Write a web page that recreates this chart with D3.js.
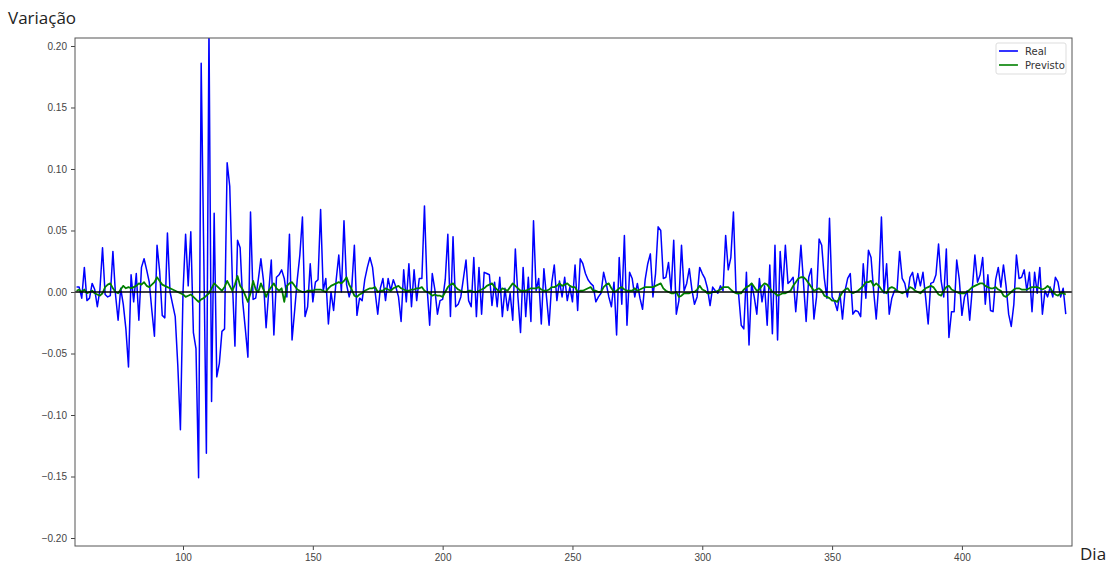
<!DOCTYPE html>
<html>
<head>
<meta charset="utf-8">
<title>Variação Real x Previsto</title>
<script src="https://d3js.org/d3.v7.min.js"></script>
<style>
  body { margin: 0; background: #fff; }
  svg { display: block; font-family: "DejaVu Sans", sans-serif; }
  .axis text { fill: #444; font-size: 10px; }
  .axis line { stroke: #444; }
  .axis .domain { display: none; }
</style>
</head>
<body>
<svg id="chart" width="1112" height="564"></svg>
<script>
// first day of both series
const startDay = 59;

// daily variation, real (days 59..440)
const real = [
  0.004, 0.004, -0.005, 0.020, -0.007, -0.005, 0.007, 0.002, -0.012, 0.002,
  0.036, -0.002, -0.004, -0.003, 0.033, -0.002, -0.023, 0.003, -0.010, -0.030,
  -0.061, 0.014, -0.008, 0.015, -0.023, 0.020, 0.027, 0.018, 0.008, -0.015,
  -0.036, 0.038, 0.017, -0.019, -0.021, 0.048, 0.000, -0.010, -0.020, -0.060,
  -0.112, 0.000, 0.047, 0.005, 0.049, -0.033, -0.046, -0.151, 0.186, 0.030,
  -0.131, 0.215, -0.089, 0.064, -0.069, -0.058, -0.032, -0.030, 0.105, 0.086,
  0.010, -0.044, 0.042, 0.036, -0.008, -0.030, -0.053, 0.065, -0.006, -0.005,
  0.010, 0.027, 0.009, -0.029, 0.000, 0.026, -0.035, 0.012, 0.014, 0.018,
  0.011, -0.004, 0.047, -0.039, -0.015, 0.010, 0.030, 0.061, -0.020, -0.012,
  0.023, -0.008, 0.008, 0.010, 0.067, 0.001, 0.011, -0.026, 0.000, -0.015,
  0.010, 0.030, 0.000, 0.058, 0.006, -0.004, 0.004, 0.038, -0.019, -0.005,
  -0.007, 0.010, 0.020, 0.028, 0.020, 0.000, -0.018, 0.003, 0.011, -0.007,
  0.011, 0.001, 0.010, 0.004, -0.004, -0.024, 0.018, -0.008, 0.023, -0.012,
  0.018, -0.007, 0.011, 0.011, 0.070, 0.004, -0.027, 0.015, 0.002, -0.018,
  -0.007, -0.006, 0.010, 0.047, -0.020, 0.045, -0.012, -0.010, -0.004, 0.011,
  0.026, -0.007, -0.012, 0.028, -0.020, 0.020, -0.018, 0.016, 0.015, 0.014,
  -0.011, 0.008, -0.012, 0.012, -0.020, 0.003, -0.015, -0.001, -0.023, 0.035,
  -0.004, -0.033, 0.020, -0.020, 0.012, -0.024, 0.058, 0.001, 0.011, -0.026,
  0.019, -0.004, -0.027, 0.007, 0.022, -0.007, 0.009, -0.004, 0.012, -0.007,
  0.004, -0.008, 0.022, -0.015, 0.027, 0.023, 0.015, 0.010, 0.007, 0.005,
  -0.008, -0.004, -0.001, 0.016, 0.007, -0.004, -0.012, 0.008, -0.035, 0.028,
  -0.010, 0.046, -0.027, 0.016, 0.011, -0.004, 0.007, -0.005, -0.014, 0.010,
  0.023, 0.031, -0.004, 0.015, 0.053, 0.050, 0.011, 0.012, 0.024, 0.001,
  0.042, -0.018, -0.007, 0.038, 0.001, 0.007, 0.019, 0.002, -0.010, -0.004,
  0.020, 0.015, 0.011, 0.003, -0.011, 0.004, 0.001, -0.001, 0.005, 0.001,
  0.046, 0.018, 0.028, 0.065, 0.000, -0.002, -0.027, -0.030, 0.016, -0.043,
  0.007, -0.004, -0.018, 0.011, -0.008, 0.005, -0.027, 0.022, -0.034, 0.038,
  -0.039, 0.033, 0.001, 0.038, 0.007, 0.009, 0.012, -0.016, 0.009, 0.038,
  0.007, -0.024, 0.012, 0.019, -0.022, -0.004, 0.043, 0.038, 0.011, -0.005,
  0.060, -0.004, -0.008, -0.015, -0.001, -0.022, 0.001, 0.011, 0.015, -0.018,
  -0.015, -0.016, -0.020, 0.023, -0.005, 0.034, 0.028, 0.001, -0.022, 0.007,
  0.061, -0.001, 0.023, -0.018, -0.005, 0.001, 0.001, 0.033, 0.011, 0.007,
  -0.004, 0.012, 0.016, 0.003, 0.015, 0.005, 0.016, -0.004, -0.026, 0.007,
  0.008, 0.014, 0.039, 0.009, -0.004, 0.035, -0.037, -0.016, -0.016, 0.026,
  0.010, -0.019, -0.004, 0.001, -0.023, 0.003, 0.030, 0.008, 0.014, 0.028,
  -0.010, 0.014, -0.015, -0.016, 0.010, 0.020, 0.004, 0.022, 0.005, -0.018,
  -0.028, -0.010, 0.030, 0.011, 0.012, 0.018, 0.001, 0.016, -0.016, 0.016,
  -0.001, 0.020, -0.018, 0.001, -0.004, 0.004, -0.004, 0.012, 0.008, -0.004,
  0.003, -0.018
];

// model prediction (same days)
const previsto = [
  0.001, 0.002, 0.000, 0.002, -0.001, 0.000, 0.001, -0.001, -0.002, -0.003,
  -0.001, 0.004, 0.006, 0.007, 0.003, 0.000, -0.001, 0.002, 0.005, 0.003,
  0.004, 0.003, 0.004, 0.005, 0.007, 0.006, 0.008, 0.005, 0.004, 0.006,
  0.008, 0.012, 0.009, 0.006, 0.005, 0.004, 0.003, 0.002, 0.001, 0.000,
  -0.001, -0.002, -0.004, -0.003, -0.002, -0.004, -0.006, -0.008, -0.006, -0.005,
  -0.003, -0.001, 0.003, 0.007, 0.005, 0.003, 0.001, 0.004, 0.009, 0.005,
  0.001, 0.006, 0.013, 0.005, 0.002, -0.003, -0.008, -0.001, 0.009, 0.002,
  0.000, 0.007, 0.002, -0.004, 0.001, 0.004, 0.007, 0.003, 0.001, 0.003,
  -0.008, 0.005, 0.007, 0.008, 0.005, 0.002, 0.001, 0.000, 0.000, 0.001,
  0.001, 0.001, 0.002, 0.002, 0.002, 0.001, 0.000, 0.003, 0.005, 0.006,
  0.007, 0.008, 0.007, 0.009, 0.012, 0.006, 0.002, -0.003, -0.004, -0.002,
  -0.001, 0.001, 0.002, 0.003, 0.003, 0.004, 0.000, 0.001, 0.001, 0.003,
  0.002, 0.001, 0.003, 0.004, 0.005, 0.003, 0.002, 0.001, 0.001, 0.002,
  0.002, 0.003, 0.003, 0.004, 0.001, 0.000, -0.001, -0.003, -0.002, -0.003,
  -0.003, -0.004, 0.000, 0.004, 0.006, 0.007, 0.004, 0.002, 0.001, 0.000,
  0.000, 0.001, 0.001, 0.000, 0.000, 0.001, 0.002, 0.003, 0.005, 0.006,
  0.007, 0.004, 0.002, 0.000, 0.003, 0.002, 0.001, 0.004, 0.007, 0.005,
  0.003, 0.001, 0.001, 0.001, 0.002, 0.003, 0.003, 0.003, 0.004, 0.002,
  0.001, 0.001, 0.002, 0.004, 0.004, 0.005, 0.007, 0.005, 0.006, 0.007,
  0.005, 0.004, 0.004, 0.000, 0.001, 0.001, 0.002, 0.003, 0.004, 0.001,
  0.001, 0.000, 0.000, 0.004, 0.006, 0.007, 0.003, 0.000, 0.001, 0.003,
  0.004, 0.002, 0.001, 0.001, 0.001, 0.003, 0.001, 0.002, 0.003, 0.004,
  0.004, 0.004, 0.004, 0.005, 0.006, 0.007, 0.003, 0.001, 0.000, -0.001,
  -0.001, 0.000, -0.004, -0.003, -0.001, -0.001, -0.001, 0.000, 0.000, 0.002,
  0.005, 0.002, 0.001, -0.001, -0.001, 0.000, 0.000, 0.001, 0.002, 0.004,
  0.004, 0.004, 0.002, 0.000, -0.001, -0.001, -0.001, 0.002, 0.004, 0.005,
  0.007, 0.004, 0.001, 0.002, 0.005, 0.007, 0.006, 0.003, 0.000, -0.001,
  -0.003, -0.002, -0.001, -0.001, 0.000, 0.001, 0.005, 0.008, 0.011, 0.012,
  0.012, 0.010, 0.007, 0.004, 0.001, 0.002, 0.003, 0.001, -0.003, -0.004,
  -0.005, -0.007, -0.007, -0.008, -0.004, 0.000, 0.002, 0.003, 0.000, -0.001,
  0.000, 0.001, 0.003, 0.005, 0.008, 0.008, 0.009, 0.005, 0.007, 0.005,
  0.002, 0.000, -0.001, 0.003, 0.004, 0.003, 0.001, 0.000, -0.001, 0.000,
  0.001, 0.004, 0.003, 0.001, 0.000, -0.001, 0.001, 0.003, 0.004, 0.005,
  0.004, 0.001, -0.002, -0.003, 0.001, 0.004, 0.005, 0.002, 0.001, 0.000,
  -0.001, -0.001, -0.001, 0.000, 0.002, 0.004, 0.005, 0.006, 0.007, 0.007,
  0.005, 0.004, 0.003, 0.003, 0.004, 0.002, 0.001, -0.003, -0.004, -0.002,
  0.000, 0.002, 0.003, 0.003, 0.002, 0.002, 0.002, 0.003, 0.004, 0.004,
  0.004, 0.003, 0.002, 0.003, 0.005, 0.003, 0.000, -0.002, -0.003, -0.001,
  -0.001, -0.002
];

const xTicks = [100, 150, 200, 250, 300, 350, 400];
const yTicks = [-0.20, -0.15, -0.10, -0.05, 0.00, 0.05, 0.10, 0.15, 0.20];
const seriesNames = ["Real", "Previsto"];
const seriesColors = ["#0000ff", "#008000"];

const svg = d3.select("#chart");
const margin = {top: 38, right: 40, bottom: 18, left: 75};
const plotW = 1112 - margin.left - margin.right;
const plotH = 564 - margin.top - margin.bottom;

const x = d3.scaleLinear().domain([58.4, 442.4]).range([0, plotW]);
const y = d3.scaleLinear().domain([-0.2065, 0.2065]).range([plotH, 0]);

const g = svg.append("g").attr("transform", `translate(${margin.left},${margin.top})`);

g.append("clipPath").attr("id", "clip")
  .append("rect").attr("width", plotW).attr("height", plotH);

// axes
const fmtY = d => d3.format(".2f")(d).replace("-", "\u2212");
g.append("g").attr("class", "axis")
  .call(d3.axisLeft(y).tickValues(yTicks).tickSize(4).tickPadding(4).tickFormat(fmtY));
g.append("g").attr("class", "axis")
  .attr("transform", `translate(0,${plotH})`)
  .call(d3.axisBottom(x).tickValues(xTicks).tickSize(4).tickPadding(4).tickFormat(d3.format("d")));

// lines
const line = d3.line().x((d, i) => x(startDay + i)).y(d => y(d));
const plot = g.append("g").attr("clip-path", "url(#clip)");
plot.append("path").datum(real)
  .attr("fill", "none").attr("stroke", seriesColors[0]).attr("stroke-width", 1.5)
  .attr("stroke-linejoin", "round").attr("d", line);
plot.append("path").datum(previsto)
  .attr("fill", "none").attr("stroke", seriesColors[1]).attr("stroke-width", 1.8)
  .attr("stroke-linejoin", "round").attr("d", line);

// zero line
g.append("line")
  .attr("x1", 0).attr("x2", plotW).attr("y1", y(0)).attr("y2", y(0))
  .attr("stroke", "#000").attr("stroke-width", 1.6);

// frame
g.append("rect").attr("width", plotW).attr("height", plotH)
  .attr("fill", "none").attr("stroke", "#555").attr("stroke-width", 1);

// legend
const leg = g.append("g").attr("transform", `translate(${plotW - 76},5)`);
leg.append("rect").attr("width", 70).attr("height", 31).attr("rx", 2)
  .attr("fill", "#fff").attr("stroke", "#ddd");
seriesNames.forEach((name, i) => {
  leg.append("line").attr("x1", 3).attr("x2", 22)
    .attr("y1", 8 + i * 14).attr("y2", 8 + i * 14)
    .attr("stroke", seriesColors[i]).attr("stroke-width", 1.6);
  leg.append("text").attr("x", 29).attr("y", 11.5 + i * 14)
    .attr("font-size", 10).attr("fill", "#333").text(name);
});

// axis titles
svg.append("text").attr("x", 8).attr("y", 24)
  .attr("font-family", "Open Sans, sans-serif").attr("font-size", 17).attr("fill", "#222")
  .text("Variação");
svg.append("text").attr("x", 1080).attr("y", 560)
  .attr("font-family", "Open Sans, sans-serif").attr("font-size", 17).attr("fill", "#222")
  .text("Dia");
</script>
</body>
</html>
